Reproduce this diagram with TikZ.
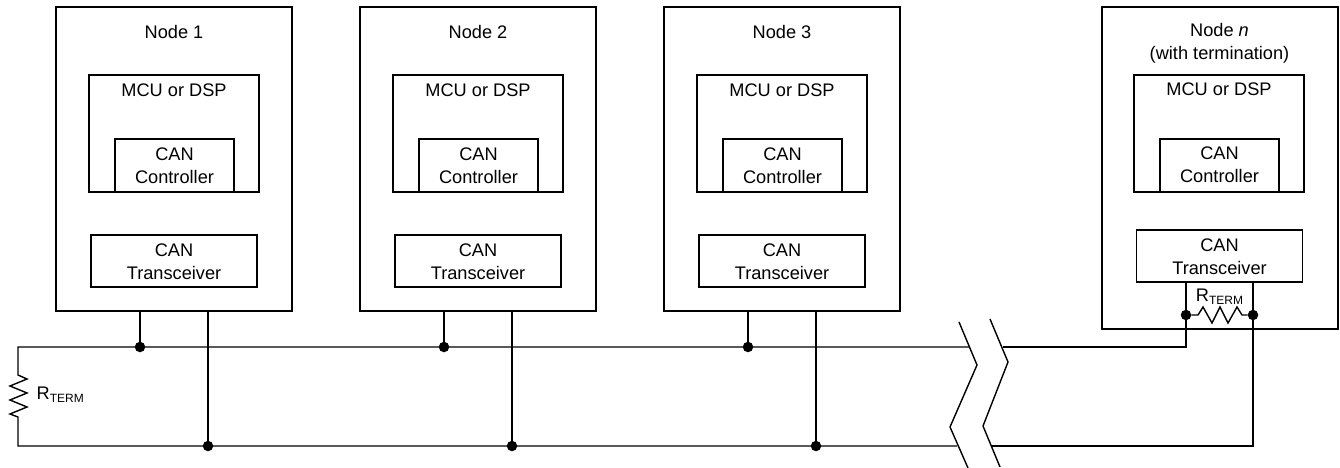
\documentclass[tikz,border=0pt]{standalone}
\usepackage{fontspec}
\setmainfont{Liberation Sans}
\newcommand{\rterm}{R\raisebox{-0.35ex}{\fontsize{12}{12}\selectfont TERM}}
\tikzset{
  outerbox/.style={draw=black,line width=2.6pt,inner sep=0pt},
  innerbox/.style={draw=black,line width=1.8pt,inner sep=0pt},
  wire/.style={black,line width=1.4pt},
  breakline/.style={black,line width=1.4pt},
  dot/.style={circle,fill=black,inner sep=0pt,minimum size=10.5pt},
  label/.style={inner sep=0pt,align=center,font=\fontsize{18.2}{23}\selectfont}
}
\begin{document}
\begin{tikzpicture}[x=1pt,y=-1pt]
\useasboundingbox (0,0) rectangle (1340,468);
\node [outerbox,minimum width=236pt,minimum height=304pt] (node1) at (174,159) {};
\node [label] (name1) at (174,32) {Node 1};
\node [innerbox,minimum width=170pt,minimum height=117pt] (mcu1) at (174,133.5) {};
\node [label] (mcutext1) at (174,90) {MCU or DSP};
\node [innerbox,minimum width=119pt,minimum height=53pt] (ctrl1) at (174.5,165.5) {};
\node [innerbox,minimum width=166pt,minimum height=52pt] (trx1) at (174,261) {};
\node [label] (ctrltext1) at (174.5,166) {CAN\\Controller};
\node [label] (trxtext1) at (174,261.5) {CAN\\Transceiver};
\node [outerbox,minimum width=236pt,minimum height=304pt] (node2) at (478,159) {};
\node [label] (name2) at (478,32) {Node 2};
\node [innerbox,minimum width=170pt,minimum height=117pt] (mcu2) at (478,133.5) {};
\node [label] (mcutext2) at (478,90) {MCU or DSP};
\node [innerbox,minimum width=119pt,minimum height=53pt] (ctrl2) at (478.5,165.5) {};
\node [innerbox,minimum width=166pt,minimum height=52pt] (trx2) at (478,261) {};
\node [label] (ctrltext2) at (478.5,166) {CAN\\Controller};
\node [label] (trxtext2) at (478,261.5) {CAN\\Transceiver};
\node [outerbox,minimum width=236pt,minimum height=304pt] (node3) at (782,159) {};
\node [label] (name3) at (782,32) {Node 3};
\node [innerbox,minimum width=170pt,minimum height=117pt] (mcu3) at (782,133.5) {};
\node [label] (mcutext3) at (782,90) {MCU or DSP};
\node [innerbox,minimum width=119pt,minimum height=53pt] (ctrl3) at (782.5,165.5) {};
\node [innerbox,minimum width=166pt,minimum height=52pt] (trx3) at (782,261) {};
\node [label] (ctrltext3) at (782.5,166) {CAN\\Controller};
\node [label] (trxtext3) at (782,261.5) {CAN\\Transceiver};
\node [outerbox,minimum width=236pt,minimum height=322pt] (noden) at (1220,168) {};
\node [label] (namen) at (1219.5,43.5) {Node \textit{n}\\(with termination)};
\node [innerbox,minimum width=170pt,minimum height=117pt] (mcun) at (1219,133.5) {};
\node [label] (mcutextn) at (1219,89) {MCU or DSP};
\node [innerbox,minimum width=119pt,minimum height=53pt] (ctrln) at (1219.5,165.5) {};
\node [innerbox,minimum width=166pt,minimum height=52pt] (trxn) at (1219.5,256) {};
\node [label] (ctrltextn) at (1219.5,165) {CAN\\Controller};
\node [label] (trxtextn) at (1219.5,256.5) {CAN\\Transceiver};
\node [dot] (high1) at (140,347) {};
\node [dot] (high2) at (444,347) {};
\node [dot] (high3) at (748,347) {};
\node [dot] (low1) at (208,446) {};
\node [dot] (low2) at (512,446) {};
\node [dot] (low3) at (816,446) {};
\node [dot] (highn) at (1186,315) {};
\node [dot] (lown) at (1253,315) {};
\coordinate (leftend) at (18,347);
\coordinate (leftbottom) at (18,446);
\coordinate (breaktopl) at (969,347);
\coordinate (breaktopr) at (1003,347);
\coordinate (breaklowl) at (957,446);
\coordinate (breaklowr) at (992,446);
\coordinate (cornerhigh) at (1186,347);
\coordinate (cornerlow) at (1253,446);
\draw [wire] (node1.south -| high1) -- (high1);
\draw [wire] (node1.south -| low1) -- (low1);
\draw [wire] (node2.south -| high2) -- (high2);
\draw [wire] (node2.south -| low2) -- (low2);
\draw [wire] (node3.south -| high3) -- (high3);
\draw [wire] (node3.south -| low3) -- (low3);
\draw [wire] (trxn.south -| highn) -- (highn) -- (cornerhigh) -- (breaktopr);
\draw [wire] (trxn.south -| lown) -- (lown) -- (cornerlow) -- (breaklowr);
\draw [wire] (breaktopl) -- (leftend) -- (18,375) -- (27,379) -- (10,386) -- (27,393) -- (10,400) -- (27,407) -- (10,414) -- (18,417) -- (leftbottom) -- (breaklowl);
\draw [wire] (highn) -- (1198,315) -- (1203,307) -- (1212,323) -- (1220,307) -- (1228,323) -- (1237,307) -- (1242,315) -- (lown);
\node [label,anchor=west] (rtermleft) at (36.5,395) {\rterm};
\node [label] (rtermn) at (1219.5,297) {\rterm};
\draw [breakline] (959,322) -- (977,365) -- (950,427) -- (968,468);
\draw [breakline] (990,319) -- (1008,362) -- (983,426) -- (1000,467);
\end{tikzpicture}
\end{document}
